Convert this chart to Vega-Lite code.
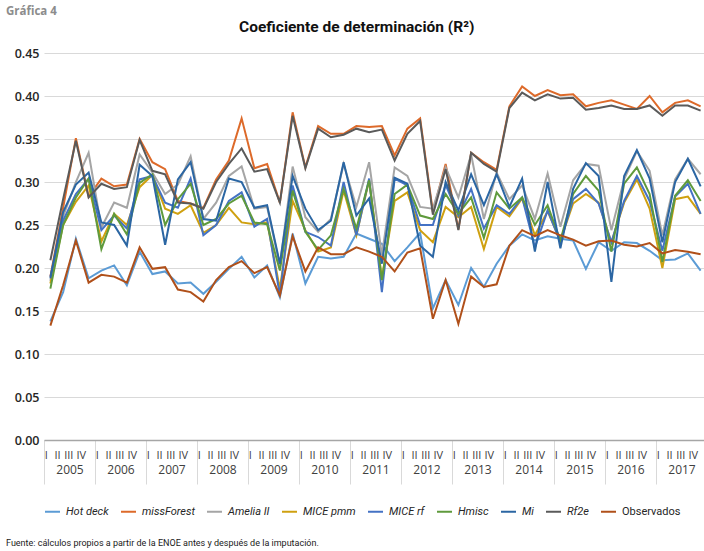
{
"$schema":"https://vega.github.io/schema/vega-lite/v6.json",
"padding":{"left":6,"top":6,"right":0,"bottom":0},
"background":"white",
"title":{"text":"Fuente: cálculos propios a partir de la ENOE antes y después de la imputación.","orient":"bottom","anchor":"start","frame":"bounds","font":"Roboto","fontSize":9,"fontWeight":"normal","color":"#1a1a1a","offset":22},
"vconcat":[{
"title":{"text":"Gráfica 4","anchor":"start","frame":"bounds","font":"Open Sans","fontSize":11.5,"fontWeight":"bold","color":"#8c8c8c","offset":2},
"vconcat":[{
"title":{"text":"Coeficiente de determinación (R²)","anchor":"middle","frame":"bounds","font":"Roboto","fontSize":15.5,"fontWeight":"bold","color":"#111111","offset":12},
"width":663,
"height":387,
"layer":[
{
"data":{"values":[
{"periodo":"2005-I","serie":"Hot deck","valor":0.138},{"periodo":"2005-II","serie":"Hot deck","valor":0.172},{"periodo":"2005-III","serie":"Hot deck","valor":0.234},{"periodo":"2005-IV","serie":"Hot deck","valor":0.188},
{"periodo":"2006-I","serie":"Hot deck","valor":0.197},{"periodo":"2006-II","serie":"Hot deck","valor":0.203},{"periodo":"2006-III","serie":"Hot deck","valor":0.180},{"periodo":"2006-IV","serie":"Hot deck","valor":0.219},
{"periodo":"2007-I","serie":"Hot deck","valor":0.193},{"periodo":"2007-II","serie":"Hot deck","valor":0.196},{"periodo":"2007-III","serie":"Hot deck","valor":0.182},{"periodo":"2007-IV","serie":"Hot deck","valor":0.183},
{"periodo":"2008-I","serie":"Hot deck","valor":0.170},{"periodo":"2008-II","serie":"Hot deck","valor":0.184},{"periodo":"2008-III","serie":"Hot deck","valor":0.199},{"periodo":"2008-IV","serie":"Hot deck","valor":0.213},
{"periodo":"2009-I","serie":"Hot deck","valor":0.189},{"periodo":"2009-II","serie":"Hot deck","valor":0.203},{"periodo":"2009-III","serie":"Hot deck","valor":0.166},{"periodo":"2009-IV","serie":"Hot deck","valor":0.240},
{"periodo":"2010-I","serie":"Hot deck","valor":0.182},{"periodo":"2010-II","serie":"Hot deck","valor":0.213},{"periodo":"2010-III","serie":"Hot deck","valor":0.211},{"periodo":"2010-IV","serie":"Hot deck","valor":0.213},
{"periodo":"2011-I","serie":"Hot deck","valor":0.240},{"periodo":"2011-II","serie":"Hot deck","valor":0.234},{"periodo":"2011-III","serie":"Hot deck","valor":0.228},{"periodo":"2011-IV","serie":"Hot deck","valor":0.208},
{"periodo":"2012-I","serie":"Hot deck","valor":0.224},{"periodo":"2012-II","serie":"Hot deck","valor":0.241},{"periodo":"2012-III","serie":"Hot deck","valor":0.153},{"periodo":"2012-IV","serie":"Hot deck","valor":0.186},
{"periodo":"2013-I","serie":"Hot deck","valor":0.157},{"periodo":"2013-II","serie":"Hot deck","valor":0.200},{"periodo":"2013-III","serie":"Hot deck","valor":0.178},{"periodo":"2013-IV","serie":"Hot deck","valor":0.205},
{"periodo":"2014-I","serie":"Hot deck","valor":0.226},{"periodo":"2014-II","serie":"Hot deck","valor":0.239},{"periodo":"2014-III","serie":"Hot deck","valor":0.232},{"periodo":"2014-IV","serie":"Hot deck","valor":0.237},
{"periodo":"2015-I","serie":"Hot deck","valor":0.234},{"periodo":"2015-II","serie":"Hot deck","valor":0.232},{"periodo":"2015-III","serie":"Hot deck","valor":0.199},{"periodo":"2015-IV","serie":"Hot deck","valor":0.230},
{"periodo":"2016-I","serie":"Hot deck","valor":0.220},{"periodo":"2016-II","serie":"Hot deck","valor":0.230},{"periodo":"2016-III","serie":"Hot deck","valor":0.229},{"periodo":"2016-IV","serie":"Hot deck","valor":0.220},
{"periodo":"2017-I","serie":"Hot deck","valor":0.209},{"periodo":"2017-II","serie":"Hot deck","valor":0.210},{"periodo":"2017-III","serie":"Hot deck","valor":0.217},{"periodo":"2017-IV","serie":"Hot deck","valor":0.197},

{"periodo":"2005-I","serie":"missForest","valor":0.190},{"periodo":"2005-II","serie":"missForest","valor":0.270},{"periodo":"2005-III","serie":"missForest","valor":0.351},{"periodo":"2005-IV","serie":"missForest","valor":0.283},
{"periodo":"2006-I","serie":"missForest","valor":0.304},{"periodo":"2006-II","serie":"missForest","valor":0.295},{"periodo":"2006-III","serie":"missForest","valor":0.297},{"periodo":"2006-IV","serie":"missForest","valor":0.350},
{"periodo":"2007-I","serie":"missForest","valor":0.323},{"periodo":"2007-II","serie":"missForest","valor":0.315},{"periodo":"2007-III","serie":"missForest","valor":0.278},{"periodo":"2007-IV","serie":"missForest","valor":0.275},
{"periodo":"2008-I","serie":"missForest","valor":0.270},{"periodo":"2008-II","serie":"missForest","valor":0.303},{"periodo":"2008-III","serie":"missForest","valor":0.325},{"periodo":"2008-IV","serie":"missForest","valor":0.374},
{"periodo":"2009-I","serie":"missForest","valor":0.316},{"periodo":"2009-II","serie":"missForest","valor":0.321},{"periodo":"2009-III","serie":"missForest","valor":0.276},{"periodo":"2009-IV","serie":"missForest","valor":0.381},
{"periodo":"2010-I","serie":"missForest","valor":0.317},{"periodo":"2010-II","serie":"missForest","valor":0.365},{"periodo":"2010-III","serie":"missForest","valor":0.356},{"periodo":"2010-IV","serie":"missForest","valor":0.356},
{"periodo":"2011-I","serie":"missForest","valor":0.365},{"periodo":"2011-II","serie":"missForest","valor":0.364},{"periodo":"2011-III","serie":"missForest","valor":0.365},{"periodo":"2011-IV","serie":"missForest","valor":0.331},
{"periodo":"2012-I","serie":"missForest","valor":0.362},{"periodo":"2012-II","serie":"missForest","valor":0.374},{"periodo":"2012-III","serie":"missForest","valor":0.265},{"periodo":"2012-IV","serie":"missForest","valor":0.321},
{"periodo":"2013-I","serie":"missForest","valor":0.245},{"periodo":"2013-II","serie":"missForest","valor":0.334},{"periodo":"2013-III","serie":"missForest","valor":0.323},{"periodo":"2013-IV","serie":"missForest","valor":0.314},
{"periodo":"2014-I","serie":"missForest","valor":0.388},{"periodo":"2014-II","serie":"missForest","valor":0.411},{"periodo":"2014-III","serie":"missForest","valor":0.400},{"periodo":"2014-IV","serie":"missForest","valor":0.407},
{"periodo":"2015-I","serie":"missForest","valor":0.401},{"periodo":"2015-II","serie":"missForest","valor":0.402},{"periodo":"2015-III","serie":"missForest","valor":0.388},{"periodo":"2015-IV","serie":"missForest","valor":0.392},
{"periodo":"2016-I","serie":"missForest","valor":0.395},{"periodo":"2016-II","serie":"missForest","valor":0.390},{"periodo":"2016-III","serie":"missForest","valor":0.385},{"periodo":"2016-IV","serie":"missForest","valor":0.400},
{"periodo":"2017-I","serie":"missForest","valor":0.381},{"periodo":"2017-II","serie":"missForest","valor":0.392},{"periodo":"2017-III","serie":"missForest","valor":0.395},{"periodo":"2017-IV","serie":"missForest","valor":0.388},

{"periodo":"2005-I","serie":"Amelia II","valor":0.185},{"periodo":"2005-II","serie":"Amelia II","valor":0.260},{"periodo":"2005-III","serie":"Amelia II","valor":0.300},{"periodo":"2005-IV","serie":"Amelia II","valor":0.334},
{"periodo":"2006-I","serie":"Amelia II","valor":0.247},{"periodo":"2006-II","serie":"Amelia II","valor":0.276},{"periodo":"2006-III","serie":"Amelia II","valor":0.270},{"periodo":"2006-IV","serie":"Amelia II","valor":0.332},
{"periodo":"2007-I","serie":"Amelia II","valor":0.311},{"periodo":"2007-II","serie":"Amelia II","valor":0.286},{"periodo":"2007-III","serie":"Amelia II","valor":0.297},{"periodo":"2007-IV","serie":"Amelia II","valor":0.330},
{"periodo":"2008-I","serie":"Amelia II","valor":0.257},{"periodo":"2008-II","serie":"Amelia II","valor":0.276},{"periodo":"2008-III","serie":"Amelia II","valor":0.307},{"periodo":"2008-IV","serie":"Amelia II","valor":0.318},
{"periodo":"2009-I","serie":"Amelia II","valor":0.269},{"periodo":"2009-II","serie":"Amelia II","valor":0.271},{"periodo":"2009-III","serie":"Amelia II","valor":0.203},{"periodo":"2009-IV","serie":"Amelia II","valor":0.318},
{"periodo":"2010-I","serie":"Amelia II","valor":0.259},{"periodo":"2010-II","serie":"Amelia II","valor":0.242},{"periodo":"2010-III","serie":"Amelia II","valor":0.257},{"periodo":"2010-IV","serie":"Amelia II","valor":0.321},
{"periodo":"2011-I","serie":"Amelia II","valor":0.271},{"periodo":"2011-II","serie":"Amelia II","valor":0.323},{"periodo":"2011-III","serie":"Amelia II","valor":0.215},{"periodo":"2011-IV","serie":"Amelia II","valor":0.317},
{"periodo":"2012-I","serie":"Amelia II","valor":0.307},{"periodo":"2012-II","serie":"Amelia II","valor":0.271},{"periodo":"2012-III","serie":"Amelia II","valor":0.269},{"periodo":"2012-IV","serie":"Amelia II","valor":0.317},
{"periodo":"2013-I","serie":"Amelia II","valor":0.282},{"periodo":"2013-II","serie":"Amelia II","valor":0.332},{"periodo":"2013-III","serie":"Amelia II","valor":0.257},{"periodo":"2013-IV","serie":"Amelia II","valor":0.311},
{"periodo":"2014-I","serie":"Amelia II","valor":0.280},{"periodo":"2014-II","serie":"Amelia II","valor":0.296},{"periodo":"2014-III","serie":"Amelia II","valor":0.257},{"periodo":"2014-IV","serie":"Amelia II","valor":0.310},
{"periodo":"2015-I","serie":"Amelia II","valor":0.248},{"periodo":"2015-II","serie":"Amelia II","valor":0.302},{"periodo":"2015-III","serie":"Amelia II","valor":0.321},{"periodo":"2015-IV","serie":"Amelia II","valor":0.319},
{"periodo":"2016-I","serie":"Amelia II","valor":0.244},{"periodo":"2016-II","serie":"Amelia II","valor":0.303},{"periodo":"2016-III","serie":"Amelia II","valor":0.336},{"periodo":"2016-IV","serie":"Amelia II","valor":0.313},
{"periodo":"2017-I","serie":"Amelia II","valor":0.238},{"periodo":"2017-II","serie":"Amelia II","valor":0.303},{"periodo":"2017-III","serie":"Amelia II","valor":0.327},{"periodo":"2017-IV","serie":"Amelia II","valor":0.309},

{"periodo":"2005-I","serie":"MICE pmm","valor":0.182},{"periodo":"2005-II","serie":"MICE pmm","valor":0.250},{"periodo":"2005-III","serie":"MICE pmm","valor":0.277},{"periodo":"2005-IV","serie":"MICE pmm","valor":0.296},
{"periodo":"2006-I","serie":"MICE pmm","valor":0.231},{"periodo":"2006-II","serie":"MICE pmm","valor":0.263},{"periodo":"2006-III","serie":"MICE pmm","valor":0.250},{"periodo":"2006-IV","serie":"MICE pmm","valor":0.294},
{"periodo":"2007-I","serie":"MICE pmm","valor":0.308},{"periodo":"2007-II","serie":"MICE pmm","valor":0.269},{"periodo":"2007-III","serie":"MICE pmm","valor":0.263},{"periodo":"2007-IV","serie":"MICE pmm","valor":0.273},
{"periodo":"2008-I","serie":"MICE pmm","valor":0.241},{"periodo":"2008-II","serie":"MICE pmm","valor":0.250},{"periodo":"2008-III","serie":"MICE pmm","valor":0.270},{"periodo":"2008-IV","serie":"MICE pmm","valor":0.253},
{"periodo":"2009-I","serie":"MICE pmm","valor":0.251},{"periodo":"2009-II","serie":"MICE pmm","valor":0.253},{"periodo":"2009-III","serie":"MICE pmm","valor":0.176},{"periodo":"2009-IV","serie":"MICE pmm","valor":0.278},
{"periodo":"2010-I","serie":"MICE pmm","valor":0.244},{"periodo":"2010-II","serie":"MICE pmm","valor":0.219},{"periodo":"2010-III","serie":"MICE pmm","valor":0.224},{"periodo":"2010-IV","serie":"MICE pmm","valor":0.290},
{"periodo":"2011-I","serie":"MICE pmm","valor":0.238},{"periodo":"2011-II","serie":"MICE pmm","valor":0.302},{"periodo":"2011-III","serie":"MICE pmm","valor":0.188},{"periodo":"2011-IV","serie":"MICE pmm","valor":0.278},
{"periodo":"2012-I","serie":"MICE pmm","valor":0.288},{"periodo":"2012-II","serie":"MICE pmm","valor":0.244},{"periodo":"2012-III","serie":"MICE pmm","valor":0.230},{"periodo":"2012-IV","serie":"MICE pmm","valor":0.271},
{"periodo":"2013-I","serie":"MICE pmm","valor":0.259},{"periodo":"2013-II","serie":"MICE pmm","valor":0.271},{"periodo":"2013-III","serie":"MICE pmm","valor":0.222},{"periodo":"2013-IV","serie":"MICE pmm","valor":0.271},
{"periodo":"2014-I","serie":"MICE pmm","valor":0.260},{"periodo":"2014-II","serie":"MICE pmm","valor":0.281},{"periodo":"2014-III","serie":"MICE pmm","valor":0.238},{"periodo":"2014-IV","serie":"MICE pmm","valor":0.266},
{"periodo":"2015-I","serie":"MICE pmm","valor":0.232},{"periodo":"2015-II","serie":"MICE pmm","valor":0.275},{"periodo":"2015-III","serie":"MICE pmm","valor":0.286},{"periodo":"2015-IV","serie":"MICE pmm","valor":0.276},
{"periodo":"2016-I","serie":"MICE pmm","valor":0.230},{"periodo":"2016-II","serie":"MICE pmm","valor":0.276},{"periodo":"2016-III","serie":"MICE pmm","valor":0.303},{"periodo":"2016-IV","serie":"MICE pmm","valor":0.269},
{"periodo":"2017-I","serie":"MICE pmm","valor":0.200},{"periodo":"2017-II","serie":"MICE pmm","valor":0.280},{"periodo":"2017-III","serie":"MICE pmm","valor":0.283},{"periodo":"2017-IV","serie":"MICE pmm","valor":0.263},

{"periodo":"2005-I","serie":"MICE rf","valor":0.190},{"periodo":"2005-II","serie":"MICE rf","valor":0.255},{"periodo":"2005-III","serie":"MICE rf","valor":0.286},{"periodo":"2005-IV","serie":"MICE rf","valor":0.304},
{"periodo":"2006-I","serie":"MICE rf","valor":0.244},{"periodo":"2006-II","serie":"MICE rf","valor":0.261},{"periodo":"2006-III","serie":"MICE rf","valor":0.246},{"periodo":"2006-IV","serie":"MICE rf","valor":0.303},
{"periodo":"2007-I","serie":"MICE rf","valor":0.307},{"periodo":"2007-II","serie":"MICE rf","valor":0.276},{"periodo":"2007-III","serie":"MICE rf","valor":0.270},{"periodo":"2007-IV","serie":"MICE rf","valor":0.304},
{"periodo":"2008-I","serie":"MICE rf","valor":0.238},{"periodo":"2008-II","serie":"MICE rf","valor":0.250},{"periodo":"2008-III","serie":"MICE rf","valor":0.278},{"periodo":"2008-IV","serie":"MICE rf","valor":0.288},
{"periodo":"2009-I","serie":"MICE rf","valor":0.248},{"periodo":"2009-II","serie":"MICE rf","valor":0.257},{"periodo":"2009-III","serie":"MICE rf","valor":0.168},{"periodo":"2009-IV","serie":"MICE rf","valor":0.296},
{"periodo":"2010-I","serie":"MICE rf","valor":0.242},{"periodo":"2010-II","serie":"MICE rf","valor":0.236},{"periodo":"2010-III","serie":"MICE rf","valor":0.226},{"periodo":"2010-IV","serie":"MICE rf","valor":0.300},
{"periodo":"2011-I","serie":"MICE rf","valor":0.238},{"periodo":"2011-II","serie":"MICE rf","valor":0.304},{"periodo":"2011-III","serie":"MICE rf","valor":0.172},{"periodo":"2011-IV","serie":"MICE rf","valor":0.304},
{"periodo":"2012-I","serie":"MICE rf","valor":0.296},{"periodo":"2012-II","serie":"MICE rf","valor":0.250},{"periodo":"2012-III","serie":"MICE rf","valor":0.250},{"periodo":"2012-IV","serie":"MICE rf","valor":0.297},
{"periodo":"2013-I","serie":"MICE rf","valor":0.261},{"periodo":"2013-II","serie":"MICE rf","valor":0.292},{"periodo":"2013-III","serie":"MICE rf","valor":0.246},{"periodo":"2013-IV","serie":"MICE rf","valor":0.273},
{"periodo":"2014-I","serie":"MICE rf","valor":0.263},{"periodo":"2014-II","serie":"MICE rf","valor":0.282},{"periodo":"2014-III","serie":"MICE rf","valor":0.224},{"periodo":"2014-IV","serie":"MICE rf","valor":0.267},
{"periodo":"2015-I","serie":"MICE rf","valor":0.230},{"periodo":"2015-II","serie":"MICE rf","valor":0.280},{"periodo":"2015-III","serie":"MICE rf","valor":0.292},{"periodo":"2015-IV","serie":"MICE rf","valor":0.275},
{"periodo":"2016-I","serie":"MICE rf","valor":0.230},{"periodo":"2016-II","serie":"MICE rf","valor":0.278},{"periodo":"2016-III","serie":"MICE rf","valor":0.307},{"periodo":"2016-IV","serie":"MICE rf","valor":0.278},
{"periodo":"2017-I","serie":"MICE rf","valor":0.220},{"periodo":"2017-II","serie":"MICE rf","valor":0.283},{"periodo":"2017-III","serie":"MICE rf","valor":0.298},{"periodo":"2017-IV","serie":"MICE rf","valor":0.263},

{"periodo":"2005-I","serie":"Hmisc","valor":0.176},{"periodo":"2005-II","serie":"Hmisc","valor":0.250},{"periodo":"2005-III","serie":"Hmisc","valor":0.282},{"periodo":"2005-IV","serie":"Hmisc","valor":0.304},
{"periodo":"2006-I","serie":"Hmisc","valor":0.222},{"periodo":"2006-II","serie":"Hmisc","valor":0.263},{"periodo":"2006-III","serie":"Hmisc","valor":0.239},{"periodo":"2006-IV","serie":"Hmisc","valor":0.299},
{"periodo":"2007-I","serie":"Hmisc","valor":0.309},{"periodo":"2007-II","serie":"Hmisc","valor":0.250},{"periodo":"2007-III","serie":"Hmisc","valor":0.280},{"periodo":"2007-IV","serie":"Hmisc","valor":0.298},
{"periodo":"2008-I","serie":"Hmisc","valor":0.250},{"periodo":"2008-II","serie":"Hmisc","valor":0.257},{"periodo":"2008-III","serie":"Hmisc","valor":0.275},{"periodo":"2008-IV","serie":"Hmisc","valor":0.284},
{"periodo":"2009-I","serie":"Hmisc","valor":0.253},{"periodo":"2009-II","serie":"Hmisc","valor":0.251},{"periodo":"2009-III","serie":"Hmisc","valor":0.197},{"periodo":"2009-IV","serie":"Hmisc","valor":0.290},
{"periodo":"2010-I","serie":"Hmisc","valor":0.242},{"periodo":"2010-II","serie":"Hmisc","valor":0.221},{"periodo":"2010-III","serie":"Hmisc","valor":0.238},{"periodo":"2010-IV","serie":"Hmisc","valor":0.292},
{"periodo":"2011-I","serie":"Hmisc","valor":0.246},{"periodo":"2011-II","serie":"Hmisc","valor":0.302},{"periodo":"2011-III","serie":"Hmisc","valor":0.186},{"periodo":"2011-IV","serie":"Hmisc","valor":0.286},
{"periodo":"2012-I","serie":"Hmisc","valor":0.297},{"periodo":"2012-II","serie":"Hmisc","valor":0.261},{"periodo":"2012-III","serie":"Hmisc","valor":0.257},{"periodo":"2012-IV","serie":"Hmisc","valor":0.286},
{"periodo":"2013-I","serie":"Hmisc","valor":0.263},{"periodo":"2013-II","serie":"Hmisc","valor":0.282},{"periodo":"2013-III","serie":"Hmisc","valor":0.235},{"periodo":"2013-IV","serie":"Hmisc","valor":0.288},
{"periodo":"2014-I","serie":"Hmisc","valor":0.269},{"periodo":"2014-II","serie":"Hmisc","valor":0.282},{"periodo":"2014-III","serie":"Hmisc","valor":0.250},{"periodo":"2014-IV","serie":"Hmisc","valor":0.273},
{"periodo":"2015-I","serie":"Hmisc","valor":0.232},{"periodo":"2015-II","serie":"Hmisc","valor":0.286},{"periodo":"2015-III","serie":"Hmisc","valor":0.307},{"periodo":"2015-IV","serie":"Hmisc","valor":0.290},
{"periodo":"2016-I","serie":"Hmisc","valor":0.219},{"periodo":"2016-II","serie":"Hmisc","valor":0.298},{"periodo":"2016-III","serie":"Hmisc","valor":0.317},{"periodo":"2016-IV","serie":"Hmisc","valor":0.286},
{"periodo":"2017-I","serie":"Hmisc","valor":0.207},{"periodo":"2017-II","serie":"Hmisc","valor":0.284},{"periodo":"2017-III","serie":"Hmisc","valor":0.302},{"periodo":"2017-IV","serie":"Hmisc","valor":0.278},

{"periodo":"2005-I","serie":"Mi","valor":0.188},{"periodo":"2005-II","serie":"Mi","valor":0.265},{"periodo":"2005-III","serie":"Mi","valor":0.297},{"periodo":"2005-IV","serie":"Mi","valor":0.311},
{"periodo":"2006-I","serie":"Mi","valor":0.253},{"periodo":"2006-II","serie":"Mi","valor":0.250},{"periodo":"2006-III","serie":"Mi","valor":0.226},{"periodo":"2006-IV","serie":"Mi","valor":0.320},
{"periodo":"2007-I","serie":"Mi","valor":0.307},{"periodo":"2007-II","serie":"Mi","valor":0.227},{"periodo":"2007-III","serie":"Mi","valor":0.303},{"periodo":"2007-IV","serie":"Mi","valor":0.323},
{"periodo":"2008-I","serie":"Mi","valor":0.257},{"periodo":"2008-II","serie":"Mi","valor":0.255},{"periodo":"2008-III","serie":"Mi","valor":0.304},{"periodo":"2008-IV","serie":"Mi","valor":0.300},
{"periodo":"2009-I","serie":"Mi","valor":0.270},{"periodo":"2009-II","serie":"Mi","valor":0.273},{"periodo":"2009-III","serie":"Mi","valor":0.205},{"periodo":"2009-IV","serie":"Mi","valor":0.307},
{"periodo":"2010-I","serie":"Mi","valor":0.269},{"periodo":"2010-II","serie":"Mi","valor":0.244},{"periodo":"2010-III","serie":"Mi","valor":0.255},{"periodo":"2010-IV","serie":"Mi","valor":0.323},
{"periodo":"2011-I","serie":"Mi","valor":0.261},{"periodo":"2011-II","serie":"Mi","valor":0.281},{"periodo":"2011-III","serie":"Mi","valor":0.205},{"periodo":"2011-IV","serie":"Mi","valor":0.305},
{"periodo":"2012-I","serie":"Mi","valor":0.298},{"periodo":"2012-II","serie":"Mi","valor":0.226},{"periodo":"2012-III","serie":"Mi","valor":0.213},{"periodo":"2012-IV","serie":"Mi","valor":0.300},
{"periodo":"2013-I","serie":"Mi","valor":0.267},{"periodo":"2013-II","serie":"Mi","valor":0.309},{"periodo":"2013-III","serie":"Mi","valor":0.273},{"periodo":"2013-IV","serie":"Mi","valor":0.309},
{"periodo":"2014-I","serie":"Mi","valor":0.271},{"periodo":"2014-II","serie":"Mi","valor":0.304},{"periodo":"2014-III","serie":"Mi","valor":0.219},{"periodo":"2014-IV","serie":"Mi","valor":0.300},
{"periodo":"2015-I","serie":"Mi","valor":0.223},{"periodo":"2015-II","serie":"Mi","valor":0.292},{"periodo":"2015-III","serie":"Mi","valor":0.322},{"periodo":"2015-IV","serie":"Mi","valor":0.307},
{"periodo":"2016-I","serie":"Mi","valor":0.184},{"periodo":"2016-II","serie":"Mi","valor":0.307},{"periodo":"2016-III","serie":"Mi","valor":0.337},{"periodo":"2016-IV","serie":"Mi","valor":0.304},
{"periodo":"2017-I","serie":"Mi","valor":0.230},{"periodo":"2017-II","serie":"Mi","valor":0.300},{"periodo":"2017-III","serie":"Mi","valor":0.327},{"periodo":"2017-IV","serie":"Mi","valor":0.295},

{"periodo":"2005-I","serie":"Rf2e","valor":0.209},{"periodo":"2005-II","serie":"Rf2e","valor":0.280},{"periodo":"2005-III","serie":"Rf2e","valor":0.348},{"periodo":"2005-IV","serie":"Rf2e","valor":0.282},
{"periodo":"2006-I","serie":"Rf2e","valor":0.298},{"periodo":"2006-II","serie":"Rf2e","valor":0.292},{"periodo":"2006-III","serie":"Rf2e","valor":0.294},{"periodo":"2006-IV","serie":"Rf2e","valor":0.349},
{"periodo":"2007-I","serie":"Rf2e","valor":0.313},{"periodo":"2007-II","serie":"Rf2e","valor":0.309},{"periodo":"2007-III","serie":"Rf2e","valor":0.276},{"periodo":"2007-IV","serie":"Rf2e","valor":0.275},
{"periodo":"2008-I","serie":"Rf2e","valor":0.269},{"periodo":"2008-II","serie":"Rf2e","valor":0.300},{"periodo":"2008-III","serie":"Rf2e","valor":0.321},{"periodo":"2008-IV","serie":"Rf2e","valor":0.339},
{"periodo":"2009-I","serie":"Rf2e","valor":0.312},{"periodo":"2009-II","serie":"Rf2e","valor":0.315},{"periodo":"2009-III","serie":"Rf2e","valor":0.276},{"periodo":"2009-IV","serie":"Rf2e","valor":0.377},
{"periodo":"2010-I","serie":"Rf2e","valor":0.316},{"periodo":"2010-II","serie":"Rf2e","valor":0.362},{"periodo":"2010-III","serie":"Rf2e","valor":0.352},{"periodo":"2010-IV","serie":"Rf2e","valor":0.355},
{"periodo":"2011-I","serie":"Rf2e","valor":0.362},{"periodo":"2011-II","serie":"Rf2e","valor":0.358},{"periodo":"2011-III","serie":"Rf2e","valor":0.361},{"periodo":"2011-IV","serie":"Rf2e","valor":0.325},
{"periodo":"2012-I","serie":"Rf2e","valor":0.356},{"periodo":"2012-II","serie":"Rf2e","valor":0.371},{"periodo":"2012-III","serie":"Rf2e","valor":0.262},{"periodo":"2012-IV","serie":"Rf2e","valor":0.315},
{"periodo":"2013-I","serie":"Rf2e","valor":0.244},{"periodo":"2013-II","serie":"Rf2e","valor":0.334},{"periodo":"2013-III","serie":"Rf2e","valor":0.321},{"periodo":"2013-IV","serie":"Rf2e","valor":0.312},
{"periodo":"2014-I","serie":"Rf2e","valor":0.386},{"periodo":"2014-II","serie":"Rf2e","valor":0.404},{"periodo":"2014-III","serie":"Rf2e","valor":0.395},{"periodo":"2014-IV","serie":"Rf2e","valor":0.402},
{"periodo":"2015-I","serie":"Rf2e","valor":0.397},{"periodo":"2015-II","serie":"Rf2e","valor":0.398},{"periodo":"2015-III","serie":"Rf2e","valor":0.384},{"periodo":"2015-IV","serie":"Rf2e","valor":0.386},
{"periodo":"2016-I","serie":"Rf2e","valor":0.389},{"periodo":"2016-II","serie":"Rf2e","valor":0.385},{"periodo":"2016-III","serie":"Rf2e","valor":0.385},{"periodo":"2016-IV","serie":"Rf2e","valor":0.389},
{"periodo":"2017-I","serie":"Rf2e","valor":0.377},{"periodo":"2017-II","serie":"Rf2e","valor":0.389},{"periodo":"2017-III","serie":"Rf2e","valor":0.389},{"periodo":"2017-IV","serie":"Rf2e","valor":0.383},

{"periodo":"2005-I","serie":"Observados","valor":0.133},{"periodo":"2005-II","serie":"Observados","valor":0.180},{"periodo":"2005-III","serie":"Observados","valor":0.232},{"periodo":"2005-IV","serie":"Observados","valor":0.183},
{"periodo":"2006-I","serie":"Observados","valor":0.192},{"periodo":"2006-II","serie":"Observados","valor":0.190},{"periodo":"2006-III","serie":"Observados","valor":0.183},{"periodo":"2006-IV","serie":"Observados","valor":0.224},
{"periodo":"2007-I","serie":"Observados","valor":0.199},{"periodo":"2007-II","serie":"Observados","valor":0.201},{"periodo":"2007-III","serie":"Observados","valor":0.175},{"periodo":"2007-IV","serie":"Observados","valor":0.172},
{"periodo":"2008-I","serie":"Observados","valor":0.161},{"periodo":"2008-II","serie":"Observados","valor":0.186},{"periodo":"2008-III","serie":"Observados","valor":0.201},{"periodo":"2008-IV","serie":"Observados","valor":0.208},
{"periodo":"2009-I","serie":"Observados","valor":0.194},{"periodo":"2009-II","serie":"Observados","valor":0.201},{"periodo":"2009-III","serie":"Observados","valor":0.168},{"periodo":"2009-IV","serie":"Observados","valor":0.237},
{"periodo":"2010-I","serie":"Observados","valor":0.196},{"periodo":"2010-II","serie":"Observados","valor":0.224},{"periodo":"2010-III","serie":"Observados","valor":0.216},{"periodo":"2010-IV","serie":"Observados","valor":0.216},
{"periodo":"2011-I","serie":"Observados","valor":0.224},{"periodo":"2011-II","serie":"Observados","valor":0.219},{"periodo":"2011-III","serie":"Observados","valor":0.213},{"periodo":"2011-IV","serie":"Observados","valor":0.196},
{"periodo":"2012-I","serie":"Observados","valor":0.218},{"periodo":"2012-II","serie":"Observados","valor":0.223},{"periodo":"2012-III","serie":"Observados","valor":0.141},{"periodo":"2012-IV","serie":"Observados","valor":0.186},
{"periodo":"2013-I","serie":"Observados","valor":0.135},{"periodo":"2013-II","serie":"Observados","valor":0.190},{"periodo":"2013-III","serie":"Observados","valor":0.178},{"periodo":"2013-IV","serie":"Observados","valor":0.181},
{"periodo":"2014-I","serie":"Observados","valor":0.226},{"periodo":"2014-II","serie":"Observados","valor":0.244},{"periodo":"2014-III","serie":"Observados","valor":0.237},{"periodo":"2014-IV","serie":"Observados","valor":0.244},
{"periodo":"2015-I","serie":"Observados","valor":0.238},{"periodo":"2015-II","serie":"Observados","valor":0.233},{"periodo":"2015-III","serie":"Observados","valor":0.226},{"periodo":"2015-IV","serie":"Observados","valor":0.231},
{"periodo":"2016-I","serie":"Observados","valor":0.232},{"periodo":"2016-II","serie":"Observados","valor":0.227},{"periodo":"2016-III","serie":"Observados","valor":0.225},{"periodo":"2016-IV","serie":"Observados","valor":0.229},
{"periodo":"2017-I","serie":"Observados","valor":0.217},{"periodo":"2017-II","serie":"Observados","valor":0.221},{"periodo":"2017-III","serie":"Observados","valor":0.219},{"periodo":"2017-IV","serie":"Observados","valor":0.216}
]},
"mark":{"type":"line","strokeWidth":2,"interpolate":"linear"},
"encoding":{
"x":{"field":"periodo","type":"ordinal","sort":null,"scale":{"type":"point","padding":0.5},
"axis":{"title":null,"domain":false,"ticks":false,"grid":false,"labelExpr":"split(datum.value,'-')[1]","labelAngle":0,"labelAlign":"right","labelOffset":-3,"labelPadding":9,"labelFontSize":11,"labelFont":"Open Sans","labelColor":"#404040","labelOverlap":false,"labelBound":false}},
"y":{"field":"valor","type":"quantitative","scale":{"domain":[0,0.45],"nice":false,"zero":true},
"axis":{"title":null,"values":[0,0.05,0.1,0.15,0.2,0.25,0.3,0.35,0.4,0.45],"format":".2f","domain":false,"ticks":false,"grid":true,"gridColor":"#d9d9d9","gridWidth":1,"labelFont":"Open Sans","labelFontSize":12.5,"labelFontWeight":600,"labelColor":"#262626","labelPadding":5,"minExtent":38}},
"color":{"field":"serie","type":"nominal",
"scale":{"domain":["Hot deck","missForest","Amelia II","MICE pmm","MICE rf","Hmisc","Mi","Rf2e","Observados"],
"range":["#5B9BD5","#DD6A2A","#A5A5A5","#CFA010","#4472C4","#5F9A3C","#2B66A3","#5A5A5A","#B0501A"]},
"legend":{"title":null,"orient":"bottom","direction":"horizontal","columns":9,"symbolType":"stroke","symbolSize":225,"symbolStrokeWidth":2,"labelFont":"Roboto","labelFontSize":11,"labelColor":"#262626","labelFontStyle":"italic","columnPadding":8,"labelOffset":5,"offset":18,
"encode":{"labels":{"update":{"fontStyle":{"signal":"datum.label === 'Observados' ? 'normal' : 'italic'"}}}}}}
}
},
{
"data":{"values":[{"anio":"2005"},{"anio":"2006"},{"anio":"2007"},{"anio":"2008"},{"anio":"2009"},{"anio":"2010"},{"anio":"2011"},{"anio":"2012"},{"anio":"2013"},{"anio":"2014"},{"anio":"2015"},{"anio":"2016"},{"anio":"2017"}]},
"mark":{"type":"rule","opacity":0},
"encoding":{
"x":{"field":"anio","type":"ordinal","scale":{"type":"band","paddingInner":0,"paddingOuter":0},
"axis":{"title":null,"orient":"bottom","domain":true,"domainColor":"#a6a6a6","domainWidth":1.5,"ticks":true,"tickBand":"extent","tickSize":44,"tickColor":"#d9d9d9","tickWidth":1,"labelPadding":-20,"labelAngle":0,"labelFont":"Open Sans","labelFontSize":12,"labelColor":"#404040","grid":false}}
}
}
],
"resolve":{"scale":{"x":"independent"},"axis":{"x":"independent"}}
}]
}],
"config":{"view":{"stroke":null},"font":"Open Sans","concat":{"spacing":0}}
}
